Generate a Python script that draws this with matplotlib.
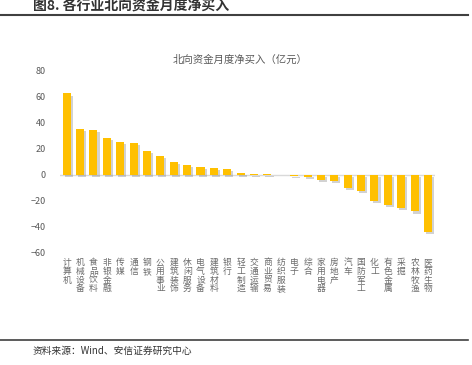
import numpy as np
import matplotlib.pyplot as plt
import matplotlib.patheffects as pe

plt.rcParams['font.family'] = ['Noto Sans CJK SC', 'DejaVu Sans']

industries = ['计算机', '机械设备', '食品饮料', '非银金融', '传媒', '通信', '钢铁',
              '公用事业', '建筑装饰', '休闲服务', '电气设备', '建筑材料', '银行',
              '轻工制造', '交通运输', '商业贸易', '纺织服装', '电子', '综合',
              '家用电器', '房地产', '汽车', '国防军工', '化工', '有色金属',
              '采掘', '农林牧渔', '医药生物']
net_buy = [62.5, 35.2, 34.6, 28.3, 25.2, 24.3, 18.4, 14.5, 9.8, 7.3, 5.9,
           5.3, 4.3, 1.5, 0.8, 0.3, -0.3, -1.2, -1.6, -4.3, -4.6, -10.5,
           -12.2, -20.2, -23.2, -25.6, -28.3, -44.0]
yticks = [-60, -40, -20, 0, 20, 40, 60, 80]

W, H = 472, 365
fig = plt.figure(figsize=(W / 100, H / 100), dpi=100)

# header / footer
fig.text(33 / W, 1 - 6 / H, '图8. 各行业北向资金月度净买入', fontsize=10,
         fontweight='bold', color='#333333', va='center', ha='left')
fig.add_artist(plt.Line2D([0, 468 / W], [1 - 15 / H, 1 - 15 / H],
                          color='#404040', lw=1.5))
fig.add_artist(plt.Line2D([0, 468 / W], [1 - 340 / H, 1 - 340 / H],
                          color='#404040', lw=1.2))
fig.text(33 / W, 1 - 351 / H, '资料来源：Wind、安信证券研究中心', fontsize=7,
         color='#333333', va='center', ha='left')

# chart
ax = fig.add_axes([60 / W, 1 - 252.7 / H, (434.7 - 60) / W, (252.7 - 70.7) / H])
x = np.arange(len(industries))
bars = ax.bar(x, net_buy, width=0.6, color='#FFC000', zorder=3)
for b in bars:
    b.set_path_effects([pe.SimplePatchShadow(offset=(1.5, -1.5), shadow_rgbFace='#808080', alpha=0.35),
                        pe.Normal()])

ax.axhline(0, color='#D9D9D9', lw=1, zorder=1)
ax.set_xlim(-0.5, len(industries) - 0.5)
ax.set_ylim(-60, 80)
ax.set_yticks(yticks)
ax.tick_params(axis='y', length=0, labelsize=6.5, labelcolor='#595959', pad=10)
ax.set_xticks([])
for s in ax.spines.values():
    s.set_visible(False)

# vertical category labels
for i, name in enumerate(industries):
    ax.annotate('\n'.join(name), xy=(i, 0), xycoords=ax.get_xaxis_transform(),
                xytext=(0, -4), textcoords='offset points', ha='center',
                va='top', fontsize=6.3, color='#6b6b6b', linespacing=0.95)

fig.text(240 / W, 1 - 60 / H, '北向资金月度净买入（亿元）', fontsize=7.5,
         color='#595959', ha='center', va='center')

fig.savefig('out.png', dpi=100)
